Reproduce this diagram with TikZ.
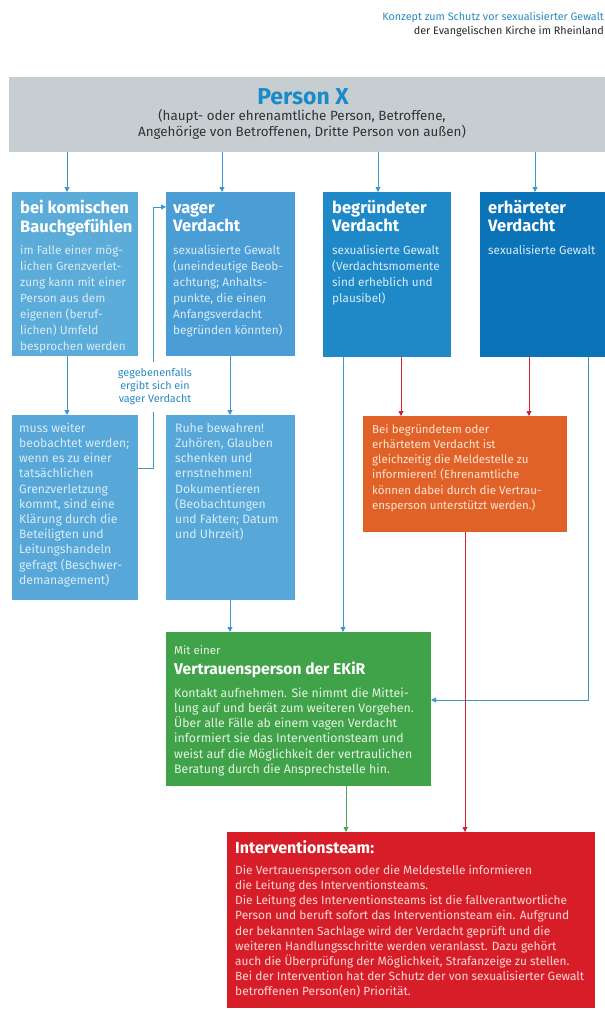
\documentclass[tikz,border=0pt]{standalone}
\usepackage{fontspec}
\setmainfont{Fira Sans}
\usetikzlibrary{arrows.meta}
\definecolor{pxgrey}{HTML}{C6CED2}
\definecolor{pxblue}{HTML}{1A8BC8}
\definecolor{hdblue}{HTML}{2A8AC4}
\definecolor{cA}{HTML}{5CACDA}
\definecolor{cB}{HTML}{4B9DD5}
\definecolor{cC}{HTML}{1F89C8}
\definecolor{cD}{HTML}{0B73B8}
\definecolor{cL}{HTML}{57A8D9}
\definecolor{cOr}{HTML}{E16228}
\definecolor{cGr}{HTML}{40A34A}
\definecolor{cRd}{HTML}{D71E28}
\definecolor{tBlue}{HTML}{D8ECF8}
\definecolor{tOr}{HTML}{FCE4D4}
\definecolor{tGr}{HTML}{E4F3E4}
\definecolor{tRd}{HTML}{F9D6D6}
\definecolor{lnBlue}{HTML}{3C97D0}
\definecolor{lnRed}{HTML}{D0202E}
\definecolor{lnGreen}{HTML}{4AA655}
\newcommand{\fl}[1]{\rule{0pt}{#1pt}}
\begin{document}
\begin{tikzpicture}[x=1pt,y=-1pt,
  box/.style={draw=none,anchor=north west,inner sep=0pt,outer sep=0pt},
  ttl/.style={anchor=north west,inner sep=0pt,align=left,text=white,font=\fontsize{16.5}{18.5}\selectfont\bfseries},
  bod/.style={anchor=north west,inner sep=0pt,align=left,text=tBlue,font=\fontsize{11.8}{16}\selectfont},
  bodl/.style={anchor=north west,inner sep=0pt,align=left,font=\fontsize{12.2}{15.2}\selectfont},
  bods/.style={anchor=north west,inner sep=0pt,align=left,font=\fontsize{11.5}{15.2}\selectfont},
  ar/.style={-{Triangle[length=5pt,width=5pt]},line width=0.9pt},
  bl/.style={ar,draw=lnBlue},
  rl/.style={ar,draw=lnRed},
  gl/.style={ar,draw=lnGreen}]
\useasboundingbox (0,0) rectangle (605,1010);
\clip (0,0) rectangle (605,1010);
\fill[white] (0,0) rectangle (605,1010);

% header
\node[anchor=base east,inner sep=0pt,text=hdblue,font=\fontsize{10.8}{12}\selectfont] (h1) at (604,20) {Konzept zum Schutz vor sexualisierter Gewalt};
\node[anchor=base east,inner sep=0pt,text=black!85,font=\fontsize{10.8}{12}\selectfont] (h2) at (604,34) {der Evangelischen Kirche im Rheinland};

% Person X
\node[box,fill=pxgrey,minimum width=601pt,minimum height=75pt] (px) at (9,77) {};
\node[anchor=base,inner sep=0pt,text=pxblue,font=\fontsize{23}{26}\selectfont\bfseries] (pxt) at (303,104) {Person X};
\node[anchor=north,inner sep=0pt,align=center,text=black!80,font=\fontsize{13.4}{16}\selectfont] (pxs) at (302,109) {\fl{10}(haupt- oder ehrenamtliche Person, Betroffene,\\Angehörige von Betroffenen, Dritte Person von außen)};

% top boxes
\node[box,fill=cA,minimum width=126pt,minimum height=164pt] (b1) at (12,192) {};
\node[box,fill=cB,minimum width=129pt,minimum height=164pt] (b2) at (166,192) {};
\node[box,fill=cC,minimum width=128pt,minimum height=165pt] (b3) at (323,192) {};
\node[box,fill=cD,minimum width=130pt,minimum height=165pt] (b4) at (480,192) {};

\node[ttl] (b1t) at (20,200) {\fl{13}bei komischen\\Bauchgefühlen};
\node[bod] (b1b) at (20,244) {\fl{10}im Falle einer mög-\\lichen Grenzverlet-\\zung kann mit einer\\Person aus dem\\eigenen (beruf-\\lichen) Umfeld\\besprochen werden};
\node[ttl] (b2t) at (173,200) {\fl{13}vager\\Verdacht};
\node[bod] (b2b) at (173,244) {\fl{10}sexualisierte Gewalt\\(uneindeutige Beob-\\achtung; Anhalts-\\punkte, die einen\\Anfangsverdacht\\begründen könnten)};
\node[ttl] (b3t) at (332,200) {\fl{13}begründeter\\Verdacht};
\node[bod] (b3b) at (332,244) {\fl{10}sexualisierte Gewalt\\(Verdachtsmomente\\sind erheblich und\\plausibel)};
\node[ttl] (b4t) at (488,200) {\fl{13}erhärteter\\Verdacht};
\node[bod] (b4b) at (488,244) {\fl{10}sexualisierte Gewalt};

% lower boxes
\node[box,fill=cL,minimum width=126pt,minimum height=185pt] (l1) at (12,415) {};
\node[box,fill=cL,minimum width=129pt,minimum height=185pt] (l2) at (166,415) {};
\node[bodl,text=tBlue] (l1b) at (19,422) {\fl{10}muss weiter\\beobachtet werden;\\wenn es zu einer\\tatsächlichen\\Grenzverletzung\\kommt, sind eine\\Klärung durch die\\Beteiligten und\\Leitungshandeln\\gefragt (Beschwer-\\demanagement)};
\node[bodl,text=tBlue] (l2b) at (175,422) {\fl{10}Ruhe bewahren!\\Zuhören, Glauben\\schenken und\\ernstnehmen!\\Dokumentieren\\(Beobachtungen\\und Fakten; Datum\\und Uhrzeit)};

% orange
\node[box,fill=cOr,minimum width=204pt,minimum height=116pt] (or) at (363,416) {};
\node[bods,text=tOr] (orb) at (372,423) {\fl{10}Bei begründetem oder\\erhärtetem Verdacht ist\\gleichzeitig die Meldestelle zu\\informieren! (Ehrenamtliche\\können dabei durch die Vertrau-\\ensperson unterstützt werden.)};

% green
\node[box,fill=cGr,minimum width=265pt,minimum height=154pt] (gr) at (166,632) {};
\node[bods,text=tGr] (grm) at (174,644) {\fl{10}Mit einer};
\node[ttl,font=\fontsize{15.6}{18}\selectfont\bfseries] (grt) at (174,662) {\fl{12}Vertrauensperson der EKiR};
\node[bodl,font=\fontsize{12.3}{15.2}\selectfont,text=tGr] (grb) at (174,687) {\fl{10}Kontakt aufnehmen. Sie nimmt die Mittei-\\lung auf und berät zum weiteren Vorgehen.\\Über alle Fälle ab einem vagen Verdacht\\informiert sie das Interventionsteam und\\weist auf die Möglichkeit der vertraulichen\\Beratung durch die Ansprechstelle hin.};

% red
\node[box,fill=cRd,minimum width=368pt,minimum height=176pt] (rd) at (227,832) {};
\node[ttl,font=\fontsize{16}{18}\selectfont\bfseries] (rdt) at (235,840) {\fl{12}Interventionsteam:};
\node[bods,font=\fontsize{11.9}{15.2}\selectfont,text=tRd] (rdb) at (235,864) {\fl{10}Die Vertrauensperson oder die Meldestelle informieren\\die Leitung des Interventionsteams.\\Die Leitung des Interventionsteams ist die fallverantwortliche\\Person und beruft sofort das Interventionsteam ein. Aufgrund\\der bekannten Sachlage wird der Verdacht geprüft und die\\weiteren Handlungsschritte werden veranlasst. Dazu gehört\\auch die Überprüfung der Möglichkeit, Strafanzeige zu stellen.\\Bei der Intervention hat der Schutz der von sexualisierter Gewalt\\betroffenen Person(en) Priorität.};

% label
\node[inner xsep=0pt,inner ysep=7pt,align=center,text=hdblue,font=\fontsize{10.8}{13}\selectfont] (lbl) at (155,387) {gegebenenfalls\\ergibt sich ein\\vager Verdacht};

% x coordinates
\coordinate (x1) at (67,0);
\coordinate (x2) at (222,0);
\coordinate (x3) at (378,0);
\coordinate (x4) at (535,0);
\coordinate (x5) at (230,0);
\coordinate (x6) at (343,0);
\coordinate (x7) at (401,0);
\coordinate (x8) at (529,0);
\coordinate (x9) at (588,0);
\coordinate (x10) at (465,0);
\coordinate (x11) at (346,0);
\coordinate (fbt) at (153,207);
\coordinate (fbb) at (153,468);
\coordinate (gry) at (0,700);

% connectors
\draw[bl] (x1 |- px.south) -- (x1 |- b1.north);
\draw[bl] (x2 |- px.south) -- (x2 |- b2.north);
\draw[bl] (x3 |- px.south) -- (x3 |- b3.north);
\draw[bl] (x4 |- px.south) -- (x4 |- b4.north);
\draw[bl] (x1 |- b1.south) -- (x1 |- l1.north);
\draw[bl] (x5 |- b2.south) -- (x5 |- l2.north);
\draw[line width=0.9pt,draw=lnBlue] (l1.east |- fbb) -- (fbb) -- (lbl.south -| fbb);
\draw[bl] (lbl.north -| fbt) -- (fbt) -- (b2.west |- fbt);
\draw[bl] (x5 |- l2.south) -- (x5 |- gr.north);
\draw[bl] (x6 |- b3.south) -- (x6 |- gr.north);
\draw[rl] (x7 |- b3.south) -- (x7 |- or.north);
\draw[rl] (x8 |- b4.south) -- (x8 |- or.north);
\draw[bl] (x9 |- b4.south) -- (x9 |- gry) -- (gr.east |- gry);
\draw[rl] (x10 |- or.south) -- (x10 |- rd.north);
\draw[gl] (x11 |- gr.south) -- (x11 |- rd.north);
\end{tikzpicture}
\end{document}
